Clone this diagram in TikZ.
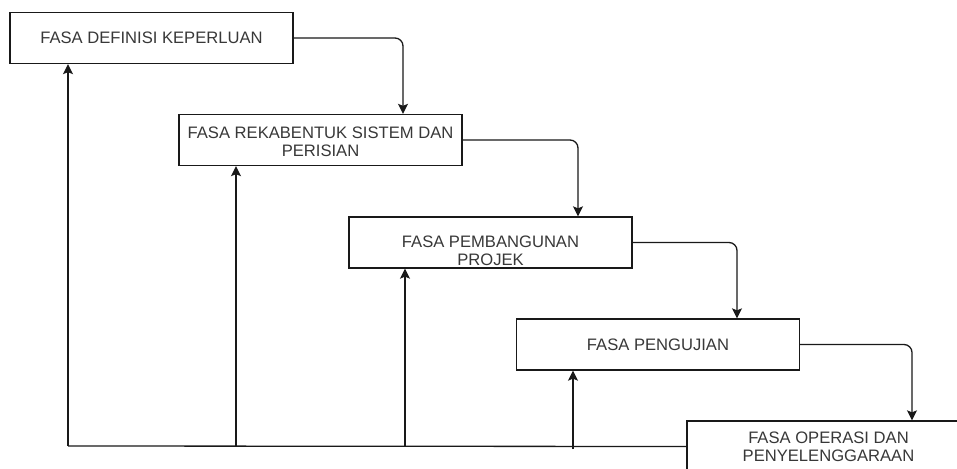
\documentclass[tikz,border=0pt]{standalone}
\usepackage{fontspec}
\setmainfont{Liberation Sans}
\usetikzlibrary{arrows.meta}
\begin{document}
\begin{tikzpicture}[x=1pt,y=-1pt,
  box/.style={draw=black!90, line width=1.3pt, minimum width=283pt, minimum height=51pt, inner sep=0pt, fill=white},
  txt/.style={font=\fontsize{16.6}{18}\selectfont, text=black!78, align=center, inner sep=0pt},
  link/.style={draw=black!90, line width=1.3pt, rounded corners=8pt, -{Stealth[length=10pt,width=10pt,inset=2pt]}},
  fb/.style={draw=black!90, line width=1.3pt}]
\useasboundingbox[fill=white] (0,0) rectangle (957,468);
\node[box] (b1) at (151.5,38) {};
\node[txt] (t1) at (b1.center) {FASA DEFINISI KEPERLUAN};
\node[box] (b2) at (320.5,140) {};
\node[txt] (t2) at ([yshift=-1.5pt]b2.center) {FASA REKABENTUK SISTEM DAN\\PERISIAN};
\node[box] (b3) at (490.5,242.5) {};
\node[txt] (t3) at ([yshift=-8pt]b3.center) {FASA PEMBANGUNAN\\PROJEK};
\node[box] (b4) at (658,344.5) {};
\node[txt] (t4) at (b4.center) {FASA PENGUJIAN};
\node[box] (b5) at (828.5,446.5) {};
\node[txt] (t5) at (b5.center) {FASA OPERASI DAN\\PENYELENGGARAAN};
% forward flow
\draw[link] (b1.east) -| ([xshift=82.5pt]b2.north);
\draw[link] (b2.east) -| ([xshift=87.5pt]b3.north);
\draw[link] (b3.east) -| ([xshift=79pt]b4.north);
\draw[link] (b4.east) -| ([xshift=83.5pt]b5.north);
% feedback
\coordinate (j1) at (68,446);
\coordinate (j2) at (236,446);
\coordinate (j3) at (405,446);
\coordinate (j4) at (573,446);
\draw[fb] (b5.west) -- (j1);
\draw[link] (j1) -- (j1 |- b1.south);
\draw[link] (j2) -- (j2 |- b2.south);
\draw[link] (j3) -- (j3 |- b3.south);
\draw[link] ([yshift=-3pt]j4) -- (j4 |- b4.south);
\end{tikzpicture}
\end{document}
